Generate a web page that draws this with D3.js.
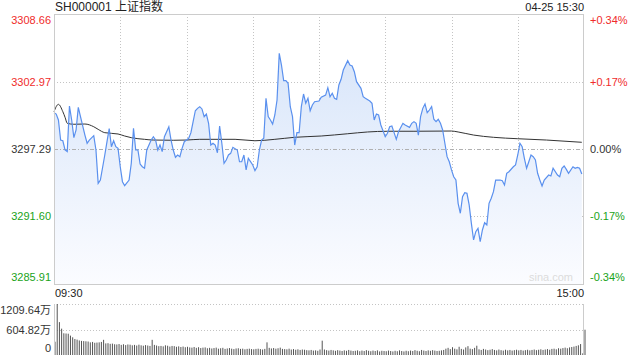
<!DOCTYPE html>
<html>
<head>
<meta charset="utf-8">
<script src="https://cdn.jsdelivr.net/npm/d3@7"></script>
<style>
  body { margin: 0; background: #fff; }
  text { font-family: "Liberation Sans", Arial, "Noto Sans CJK SC", sans-serif; }
</style>
</head>
<body>
<div id="chart"></div>
<script>
// header text
var title = "SH000001 上证指数";
var stamp = "04-25 15:30";
var timeLabels = ["09:30", "15:00"];

// price axis ticks (left) and percent ticks (right)
var prevClose = 3297.29;
var priceTicks = [3308.66, 3302.97, 3297.29, 3291.60, 3285.91];
var pctTicks = ["+0.34%", "+0.17%", "0.00%", "-0.17%", "-0.34%"];
var volTicks = [1209.64, 604.82, 0];
var volTickText = ["1209.64万", "604.82万", "0"];

// minute index (0 = 09:30, 240 = 15:00) and price
var minutes = [0, 1, 2, 3, 4, 5, 6, 7, 8, 9, 10, 11, 12, 14, 15, 16, 18, 19, 20, 21,
  23, 24, 25, 26, 27, 28, 29, 30, 31, 32, 34, 35, 36, 37, 38, 39, 40, 41, 42, 44,
  45, 46, 47, 48, 49, 50, 52, 53, 54, 55, 56, 57, 58, 59, 61, 62, 63, 64, 65, 66,
  67, 68, 69, 70, 71, 72, 73, 74, 75, 76, 77, 78, 79, 80, 81, 83, 84, 85, 86, 87,
  88, 90, 91, 92, 93, 94, 95, 96, 97, 98, 99, 100, 101, 102, 103, 104, 105, 106, 107, 108,
  109, 110, 111, 112, 113, 114, 115, 116, 117, 118, 120, 121, 123, 124, 125, 126, 127, 128, 129, 130,
  131, 133, 134, 135, 136, 137, 139, 140, 141, 143, 144, 145, 146, 147, 148, 150, 151, 152, 153, 154,
  155, 156, 158, 159, 161, 162, 163, 164, 165, 166, 167, 168, 169, 170, 171, 172, 173, 174, 175, 176,
  177, 178, 179, 180, 181, 182, 183, 184, 185, 186, 187, 188, 189, 190, 191, 192, 193, 194, 195, 196,
  197, 198, 199, 200, 202, 203, 204, 205, 206, 208, 209, 210, 211, 212, 213, 214, 215, 216, 217, 218,
  219, 220, 221, 222, 224, 225, 226, 228, 229, 230, 231, 232, 233, 235, 236, 237, 238, 239];
var prices = [3300.34, 3300.23, 3299.73, 3298.04, 3297.98, 3297.20, 3297.06, 3300.91, 3299.73, 3298.24,
  3298.89, 3300.80, 3300.01, 3298.46, 3297.77, 3298.04, 3298.41, 3297.20, 3294.39, 3294.67,
  3296.78, 3297.90, 3299.00, 3297.48, 3297.98, 3297.48, 3297.34, 3295.79, 3294.53, 3294.19,
  3294.67, 3296.08, 3299.03, 3297.20, 3297.20, 3296.02, 3295.79, 3295.66, 3297.20, 3298.04,
  3298.32, 3298.04, 3297.20, 3297.62, 3297.06, 3298.32, 3299.16, 3298.04, 3297.20, 3296.59,
  3296.78, 3296.64, 3297.34, 3297.90, 3298.19, 3298.66, 3299.59, 3300.51, 3300.71, 3300.85,
  3300.66, 3300.01, 3300.23, 3299.45, 3297.62, 3297.77, 3297.62, 3296.97, 3299.22, 3297.77,
  3296.08, 3296.36, 3296.78, 3296.92, 3297.43, 3297.20, 3296.21, 3296.21, 3296.78, 3295.52,
  3296.50, 3295.94, 3295.46, 3295.79, 3297.20, 3298.04, 3298.19, 3301.56, 3300.01, 3299.73,
  3299.39, 3300.15, 3301.41, 3305.35, 3304.36, 3303.04, 3303.04, 3302.82, 3300.85, 3300.01,
  3297.62, 3298.66, 3298.66, 3300.85, 3301.92, 3301.14, 3301.56, 3300.51, 3300.99, 3301.27,
  3301.33, 3301.64, 3301.83, 3302.45, 3301.69, 3301.98, 3301.56, 3301.47, 3302.68, 3303.16,
  3303.94, 3304.73, 3304.36, 3304.28, 3303.80, 3302.96, 3302.40, 3301.69, 3301.56, 3301.33,
  3301.14, 3299.73, 3300.23, 3300.15, 3299.31, 3298.32, 3298.61, 3299.16, 3299.22, 3298.66,
  3298.10, 3298.74, 3299.45, 3299.31, 3299.11, 3299.45, 3299.59, 3299.45, 3298.46, 3300.01,
  3300.71, 3301.08, 3300.34, 3300.57, 3300.85, 3299.79, 3299.59, 3299.79, 3299.45, 3298.89,
  3297.77, 3296.64, 3296.21, 3295.52, 3294.95, 3294.67, 3292.71, 3291.87, 3293.27, 3293.60,
  3293.55, 3292.57, 3291.02, 3289.62, 3290.32, 3290.60, 3289.47, 3290.46, 3291.07, 3290.88,
  3292.71, 3293.13, 3293.69, 3294.67, 3294.67, 3294.61, 3294.25, 3295.24, 3295.37, 3295.79,
  3295.94, 3296.78, 3297.77, 3297.48, 3296.50, 3295.66, 3296.21, 3296.78, 3296.64, 3296.36,
  3295.24, 3294.67, 3294.17, 3294.67, 3295.09, 3295.01, 3295.66, 3295.09, 3294.95, 3295.66,
  3295.85, 3295.57, 3295.24, 3295.79, 3295.66, 3295.74, 3295.66, 3295.18];

// average price line
var avgMinutes = [0, 2, 4, 5, 6, 9, 14, 18, 20, 23, 29, 32, 35, 41, 45, 54, 60, 66, 82, 91,
  100, 109, 121, 133, 142, 151, 163, 180, 183, 190, 199, 210, 223, 239];
var avgPrices = [3300.43, 3301.05, 3300.43, 3299.96, 3299.45, 3299.37, 3299.39, 3299.16, 3298.94, 3298.66,
  3298.55, 3298.38, 3298.24, 3298.10, 3298.04, 3298.02, 3298.04, 3298.10, 3298.10, 3297.98,
  3298.10, 3298.27, 3298.38, 3298.57, 3298.72, 3298.78, 3298.78, 3298.80, 3298.72, 3298.46,
  3298.27, 3298.15, 3298.04, 3297.85];

// volume per minute (万), 241 bars
var volumes = [
  315, 1209.64, 780, 625, 515, 510, 505, 460, 420, 380, 365, 345, 335, 330, 325, 320, 300, 310, 290, 295, 300, 310, 360, 275, 280, 265, 270, 255, 250, 260,
  240, 255, 235, 250, 245, 230, 240, 225, 245, 230, 220, 235, 225, 215, 360, 240, 225, 210, 215, 205, 230, 220, 200, 215, 210, 195, 205, 190, 200, 185,
  195, 180, 175, 190, 170, 185, 165, 175, 180, 160, 170, 155, 165, 175, 150, 160, 170, 145, 155, 165, 150, 140, 155, 160, 145, 150, 135, 145, 150, 140,
  135, 145, 150, 140, 130, 145, 300, 170, 155, 165, 150, 160, 175, 145, 140, 135, 150, 130, 140, 125, 135, 120, 130, 125, 115, 110, 120, 105, 110, 100,
  130, 340, 130, 115, 105, 120, 110, 100, 115, 105, 95, 110, 100, 120, 105, 95, 100, 110, 90, 105, 95, 115, 100, 90, 105, 95, 110, 85, 100, 95,
  90, 105, 95, 85, 100, 90, 110, 95, 85, 100, 90, 105, 95, 115, 100, 90, 120, 105, 95, 110, 100, 115, 105, 95, 100, 110, 120, 150, 170, 140,
  185, 150, 135, 195, 145, 130, 180, 210, 150, 140, 170, 220, 135, 120, 145, 130, 115, 125, 140, 120, 110, 130, 115, 105, 125, 110, 120, 105, 115, 125,
  110, 120, 105, 115, 125, 110, 120, 130, 115, 125, 135, 120, 130, 140, 125, 145, 150, 135, 160, 150, 165, 175, 160, 180, 190, 200, 215, 230, 260, 40, 600
];

var svgWidth = 640;
var svgHeight = 360;
// main price panel and volume panel bounds
var left = 54, right = 584;
var priceTop = 14, priceBottom = 284;
var volTop = 304, volBottom = 355;

var red = "#f02b2b", green = "#1aa31a", dark = "#333";

var svg = d3.select("#chart")
  .append("svg")
  .attr("width", svgWidth)
  .attr("height", svgHeight);

// scales
var xScale = d3.scaleLinear().domain([0, 240]).range([left, right]);
var yScale = d3.scaleLinear().domain([3285.91, 3308.66]).range([priceBottom, priceTop]);
var vScale = d3.scaleLinear().domain([0, 1209.64]).range([volBottom, volTop]);

// gradient for the area under the line
var grad = svg.append("defs").append("linearGradient")
  .attr("id", "fillGrad")
  .attr("gradientUnits", "userSpaceOnUse")
  .attr("x1", 0).attr("y1", priceTop)
  .attr("x2", 0).attr("y2", priceBottom);
grad.append("stop").attr("offset", "0%").attr("stop-color", "#d3e2f9");
grad.append("stop").attr("offset", "100%").attr("stop-color", "#fbfcff");

// vertical grid lines every 30 minutes
var gridMinutes = d3.range(30, 240, 30);
svg.append("g")
  .selectAll("line")
  .data(gridMinutes)
  .enter()
  .append("line")
  .attr("x1", d => Math.round(xScale(d)) + 0.5)
  .attr("x2", d => Math.round(xScale(d)) + 0.5)
  .attr("y1", priceTop)
  .attr("y2", priceBottom)
  .attr("stroke", "#c4c4c4")
  .attr("stroke-dasharray", "1,2");

// horizontal grid lines
svg.append("g")
  .selectAll("line")
  .data(priceTicks.filter(d => d !== prevClose))
  .enter()
  .append("line")
  .attr("x1", left)
  .attr("x2", right)
  .attr("y1", d => Math.round(yScale(d)) + 0.5)
  .attr("y2", d => Math.round(yScale(d)) + 0.5)
  .attr("stroke", "#c4c4c4")
  .attr("stroke-dasharray", "1,2");

// area under the price line
var points = minutes.map((m, i) => [m, prices[i]]);
var area = d3.area()
  .x(d => xScale(d[0]))
  .y0(priceBottom)
  .y1(d => yScale(d[1]));
svg.append("path")
  .datum(points)
  .attr("d", area)
  .attr("fill", "url(#fillGrad)");

// previous close line
svg.append("line")
  .attr("x1", left)
  .attr("x2", right)
  .attr("y1", Math.round(yScale(prevClose)) + 0.5)
  .attr("y2", Math.round(yScale(prevClose)) + 0.5)
  .attr("stroke", "#b0b0b0")
  .attr("stroke-dasharray", "4,2,1,2");

// average line
var avgPoints = avgMinutes.map((m, i) => [m, avgPrices[i]]);
var line = d3.line()
  .x(d => xScale(d[0]))
  .y(d => yScale(d[1]))
  .curve(d3.curveMonotoneX);
svg.append("path")
  .datum(avgPoints)
  .attr("d", line)
  .attr("fill", "none")
  .attr("stroke", "#333")
  .attr("stroke-width", 1);

// price line
svg.append("path")
  .datum(points)
  .attr("d", d3.line().x(d => xScale(d[0])).y(d => yScale(d[1])))
  .attr("fill", "none")
  .attr("stroke", "#5a90ee")
  .attr("stroke-width", 1.2);

// frame of price panel
svg.append("rect")
  .attr("x", left + 0.5)
  .attr("y", priceTop + 0.5)
  .attr("width", right - left - 1)
  .attr("height", priceBottom - priceTop)
  .attr("fill", "none")
  .attr("stroke", "#cccccc");

// watermark
svg.append("text")
  .attr("x", 573)
  .attr("y", 281)
  .attr("text-anchor", "end")
  .attr("font-size", "11px")
  .attr("fill", "#dcdcdc")
  .text("sina.com");

// left price labels
svg.append("g")
  .selectAll("text")
  .data(priceTicks)
  .enter()
  .append("text")
  .attr("x", 51)
  .attr("y", (d, i) => yScale(d) + (i === 0 ? 10 : i === priceTicks.length - 1 ? -3 : 4))
  .attr("text-anchor", "end")
  .attr("font-size", "11px")
  .attr("fill", d => d > prevClose ? red : d < prevClose ? green : dark)
  .text(d => d.toFixed(2));

// right percent labels
svg.append("g")
  .selectAll("text")
  .data(pctTicks)
  .enter()
  .append("text")
  .attr("x", 590)
  .attr("y", (d, i) => yScale(priceTicks[i]) + (i === 0 ? 10 : i === pctTicks.length - 1 ? -3 : 4))
  .attr("font-size", "11px")
  .attr("fill", d => d[0] === "+" ? red : d[0] === "-" ? green : dark)
  .text(d => d);

// header
svg.append("text")
  .attr("x", 55)
  .attr("y", 11)
  .attr("font-size", "12px")
  .attr("fill", "#222")
  .text(title);
svg.append("text")
  .attr("x", right)
  .attr("y", 11)
  .attr("text-anchor", "end")
  .attr("font-size", "11px")
  .attr("fill", "#222")
  .text(stamp);

// time labels
svg.append("text")
  .attr("x", 55)
  .attr("y", 297)
  .attr("font-size", "11px")
  .attr("fill", "#222")
  .text(timeLabels[0]);
svg.append("text")
  .attr("x", right)
  .attr("y", 297)
  .attr("text-anchor", "end")
  .attr("font-size", "11px")
  .attr("fill", "#222")
  .text(timeLabels[1]);

// volume grid
svg.append("g")
  .selectAll("line")
  .data(volTicks.slice(0, 2))
  .enter()
  .append("line")
  .attr("x1", left)
  .attr("x2", right)
  .attr("y1", d => Math.round(vScale(d)) + 0.5)
  .attr("y2", d => Math.round(vScale(d)) + 0.5)
  .attr("stroke", "#c4c4c4")
  .attr("stroke-dasharray", "1,2");

// volume bars
svg.append("g")
  .selectAll("rect")
  .data(volumes)
  .enter()
  .append("rect")
  .attr("x", (d, i) => xScale(i) + 0.5)
  .attr("y", d => vScale(d))
  .attr("width", 1)
  .attr("height", d => volBottom - vScale(d))
  .attr("fill", "#555");

// volume panel side borders
svg.append("line")
  .attr("x1", left + 0.5).attr("x2", left + 0.5)
  .attr("y1", volTop).attr("y2", volBottom)
  .attr("stroke", "#cccccc");
svg.append("line")
  .attr("x1", right - 0.5).attr("x2", right - 0.5)
  .attr("y1", volTop).attr("y2", volBottom)
  .attr("stroke", "#cccccc");

// volume labels
svg.append("g")
  .selectAll("text")
  .data(volTickText)
  .enter()
  .append("text")
  .attr("x", 51)
  .attr("y", (d, i) => vScale(volTicks[i]) + (i === 0 ? 10 : i === 2 ? -3 : 4))
  .attr("text-anchor", "end")
  .attr("font-size", "11px")
  .attr("fill", dark)
  .text(d => d);
</script>
</body>
</html>
